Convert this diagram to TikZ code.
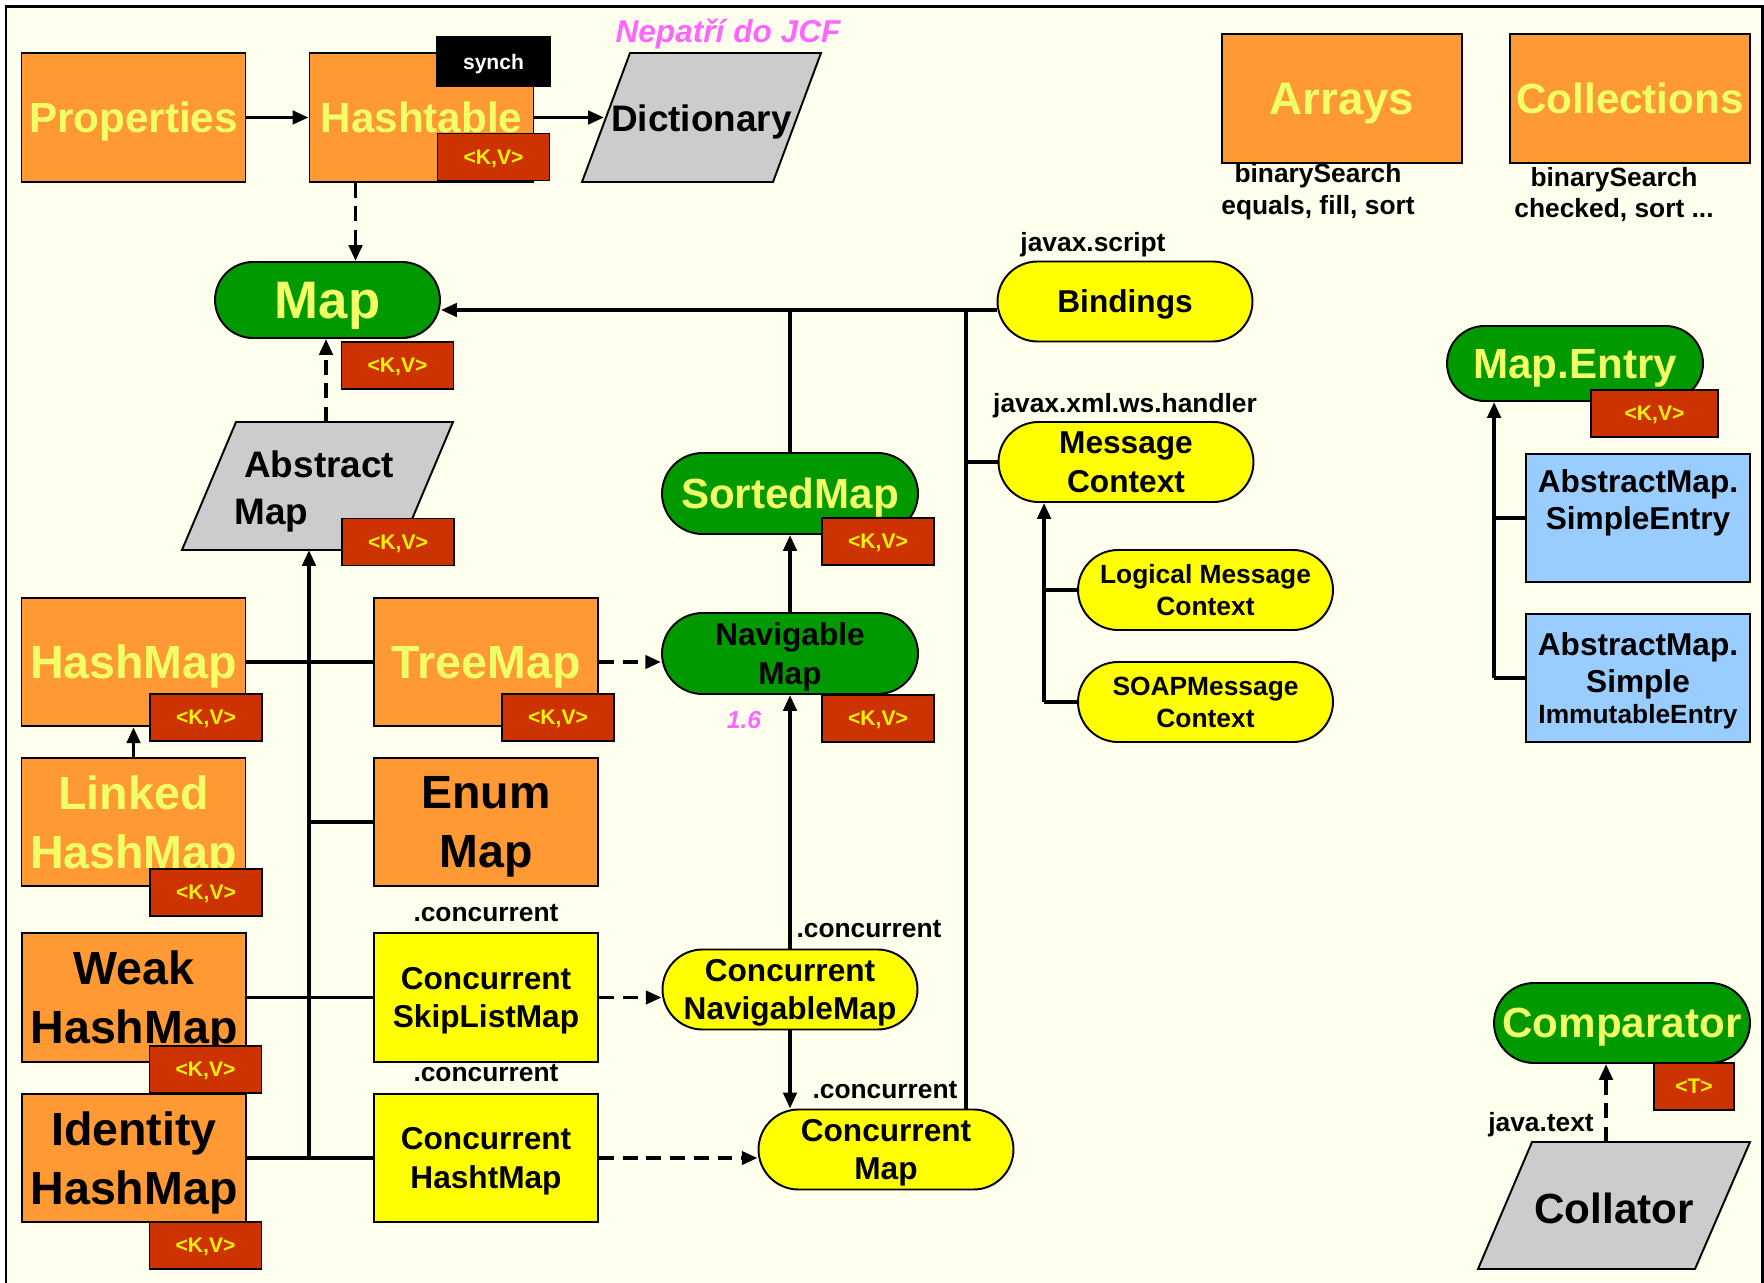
\documentclass[tikz,border=0pt]{standalone}
\usepackage{fontspec}
\setmainfont{Liberation Sans}
\usetikzlibrary{arrows.meta,shapes.misc}

\definecolor{cream}{HTML}{FFFFEE}
\definecolor{classorange}{HTML}{FF9933}
\definecolor{paleyellow}{HTML}{F2FF66}
\definecolor{tagred}{HTML}{CC3300}
\definecolor{ifacegreen}{HTML}{009900}
\definecolor{abstractgray}{HTML}{CCCCCC}
\definecolor{conclyellow}{HTML}{FFFF00}
\definecolor{entryblue}{HTML}{99CCFF}
\definecolor{notepink}{HTML}{FF66FF}

\tikzset{
  conn/.style={line width=2.1pt},
  arr/.style={conn,-{Triangle[length=9pt,width=7.5pt]}},
  dsh/.style={arr,dash pattern=on 8.5pt off 5pt},
  shapeline/.style={draw,line width=1.1pt,inner sep=0pt,align=center,text depth=0pt},
  orangebox/.style={shapeline,fill=classorange,text=paleyellow,minimum width=4.48cm,minimum height=2.57cm,font=\bfseries\fontsize{26.5}{33.5}\selectfont},
  yellowbox/.style={shapeline,fill=conclyellow,minimum width=4.48cm,minimum height=2.57cm,font=\bfseries\fontsize{18}{22}\selectfont},
  bluebox/.style={shapeline,fill=entryblue,minimum width=4.48cm,minimum height=2.56cm,font=\bfseries\fontsize{18}{21.3}\selectfont},
  greenpill/.style={shapeline,rounded rectangle,fill=ifacegreen,text=paleyellow,minimum width=5.12cm,minimum height=1.62cm,font=\bfseries\fontsize{24}{28}\selectfont},
  yellowpill/.style={shapeline,rounded rectangle,fill=conclyellow,minimum width=5.1cm,minimum height=1.6cm,font=\bfseries\fontsize{18}{22}\selectfont},
  kvtag/.style={shapeline,fill=tagred,text=yellow,minimum width=2.24cm,minimum height=0.94cm,font=\bfseries\fontsize{12}{14}\selectfont},
  pkg/.style={inner sep=0pt,align=center,text depth=0pt,font=\bfseries\fontsize{15}{18}\selectfont},
  parashape/.style={draw,line width=1.1pt,fill=abstractgray},
  paratext/.style={inner sep=0pt,text depth=0pt,font=\bfseries\fontsize{21}{26.7}\selectfont},
}

\begin{document}
\begin{tikzpicture}[x=0.02cm,y=-0.02cm]
    % page and frame
    \path[use as bounding box,fill=white] (0,0) rectangle (1764,1283);
    \filldraw[fill=cream,line width=1.7pt] (6,1290) -- (6,7) -- (1762,7) -- (1762,1290);

    % Legacy classes - Properties, Hashtable, Dictionary
    \node[orangebox,font=\bfseries\fontsize{24}{28}\selectfont] (props) at (133.5,117.5) {Properties};
    \node[orangebox,font=\bfseries\fontsize{24}{28}\selectfont] (htable) at (421.5,117.5) {Hashtable};
    \node[kvtag,fill=black,text=white,minimum width=2.26cm,minimum height=0.98cm] (synch) at (493.5,61.5) {synch};
    \node[kvtag] (kvhtable) at (493.5,157) {<K,V>};
    \path[parashape] (582,182) -- (630,53) -- (821,53) -- (773,182) -- cycle;
    \node[paratext] (dict) at (701.5,118) {Dictionary};
    \coordinate (dictedge) at (604,117.5);
    \node[pkg,text=notepink,font=\bfseries\itshape\fontsize{18}{22}\selectfont] (nojcf) at (728,31) {Nepatří do JCF};

    % Map and AbstractMap
    \node[greenpill,minimum width=4.5cm,minimum height=1.52cm,font=\bfseries\fontsize{30}{34}\selectfont] (map) at (327.5,300) {Map};
    \node[kvtag] (kvmap) at (397.5,365.5) {<K,V>};
    \path[parashape] (182,550) -- (236,422) -- (453,422) -- (399,550) -- cycle;
    \node[paratext,align=left,anchor=west] (absmap) at (234,488) {\hspace*{0.2cm}Abstract\\Map};
    \node[kvtag] (kvabs) at (398,542) {<K,V>};
    \coordinate (abstop) at (326,422);
    \coordinate (absbot) at (309,550);

    % Implementations
    \node[orangebox] (hashmap) at (133.5,662) {HashMap};
    \node[kvtag] (kvhash) at (206,717.5) {<K,V>};
    \node[orangebox] (treemap) at (486,662) {TreeMap};
    \node[kvtag] (kvtree) at (558,717.5) {<K,V>};
    \node[orangebox] (linked) at (133.5,822) {Linked\\HashMap};
    \node[kvtag] (kvlinked) at (206,892.5) {<K,V>};
    \node[orangebox,text=black] (enummap) at (486,822) {Enum\\Map};
    \node[orangebox,text=black] (weak) at (134,997.5) {Weak\\HashMap};
    \node[kvtag] (kvweak) at (205.5,1069.5) {<K,V>};
    \node[orangebox,text=black] (identity) at (134,1158) {Identity\\HashMap};
    \node[kvtag] (kvident) at (205.5,1245.5) {<K,V>};
    \node[yellowbox] (skiplist) at (486,997.5) {Concurrent\\SkipListMap};
    \node[pkg] (lblskip) at (486,913) {.concurrent};
    \node[yellowbox] (chashmap) at (486,1158) {Concurrent\\HashtMap};
    \node[pkg] (lblchash) at (486,1073) {.concurrent};

    % Sorted and concurrent interfaces
    \node[greenpill] (sorted) at (790,493.5) {SortedMap};
    \node[kvtag] (kvsorted) at (878,541.5) {<K,V>};
    \node[greenpill,text=black,font=\bfseries\fontsize{18}{22.5}\selectfont] (navigable) at (790,653.5) {Navigable\\Map};
    \node[kvtag] (kvnav) at (878,718.5) {<K,V>};
    \node[pkg,text=notepink,font=\bfseries\itshape\fontsize{14}{16}\selectfont] (since) at (744,720) {1.6};
    \node[yellowpill] (concnav) at (790,989.5) {Concurrent\\NavigableMap};
    \node[pkg] (lblnav) at (869,929) {.concurrent};
    \node[yellowpill] (concmap) at (886,1149.5) {Concurrent\\Map};
    \node[pkg] (lblcmap) at (885,1090) {.concurrent};

    % Other packages
    \node[yellowpill] (bindings) at (1125,301.5) {Bindings};
    \node[pkg] (lblscript) at (1093,242) {javax.script};
    \node[yellowpill] (msgctx) at (1126,462) {Message\\Context};
    \node[pkg] (lblhandler) at (1125,403) {javax.xml.ws.handler};
    \node[yellowpill,font=\bfseries\fontsize{15}{18}\selectfont] (logical) at (1205.5,590) {Logical Message\\Context};
    \node[yellowpill,font=\bfseries\fontsize{15}{18}\selectfont] (soap) at (1205.5,702) {SOAPMessage\\Context};

    % Utility classes
    \node[orangebox,minimum width=4.8cm,font=\bfseries\fontsize{26}{30}\selectfont] (arrays) at (1342,98.5) {Arrays};
    \node[pkg] (arraysops) at (1318,189) {binarySearch\\equals, fill, sort};
    \node[orangebox,minimum width=4.8cm,font=\bfseries\fontsize{24}{28}\selectfont] (collections) at (1630,98.5) {Collections};
    \node[pkg] (collops) at (1614,192.5) {binarySearch\\checked, sort ...};

    % Map.Entry
    \node[greenpill,minimum height=1.5cm] (mapentry) at (1575,363.5) {Map.Entry};
    \node[kvtag,minimum width=2.54cm] (kventry) at (1654.5,413.5) {<K,V>};
    \node[bluebox] (simpleentry) at (1638,518) {AbstractMap.\\SimpleEntry\\\mbox{}};
    \node[bluebox] (immutable) at (1638,678) {AbstractMap.\\Simple\\[-3.8pt]{\fontsize{15}{18}\selectfont ImmutableEntry}};

    % Comparator and Collator
    \node[greenpill,minimum height=1.6cm] (comparator) at (1622,1023) {Comparator};
    \node[kvtag,minimum width=1.6cm] (kvt) at (1694,1086.5) {<T>};
    \path[parashape] (1478,1269) -- (1532,1142) -- (1750,1142) -- (1695,1269) -- cycle;
    \node[paratext,font=\bfseries\fontsize{24}{28}\selectfont] (collator) at (1614,1208) {Collator};
    \coordinate (coltop) at (1606,1142);
    \node[pkg] (lbltext) at (1541,1122) {java.text};

    % Connectors - top row
    \draw[arr] (props.east) -- (htable.west);
    \draw[arr] (htable.east) -- (dictedge);
    \draw[dsh] ([xshift=0.94cm]htable.south west) -- ([xshift=0.94cm]htable.south west |- map.north);
    \draw[dsh] (abstop) -- (abstop |- map.south);

    % Connectors - bus into Map
    \coordinate (bus) at ([yshift=-0.17cm]bindings.west);
    \coordinate (riser) at ([xshift=1.6cm]concmap.north);
    \draw[arr] (bus) -- (bus -| map.east);
    \draw[conn] (sorted.north) -- (sorted.north |- bus);
    \draw[conn] (riser) -- (riser |- bus);
    \draw[conn] (riser |- msgctx.west) -- (msgctx.west);

    % Connectors - AbstractMap trunk
    \draw[arr] (absbot |- identity.east) -- (absbot);
    \draw[conn] (hashmap.east) -- (treemap.west);
    \draw[conn] (absbot |- enummap.west) -- (enummap.west);
    \draw[conn] (weak.east) -- (skiplist.west);
    \draw[conn] (identity.east) -- (chashmap.west);
    \draw[arr] (linked.north) -- (hashmap.south);

    % Connectors - sorted chain
    \draw[arr] (navigable.north) -- (sorted.south);
    \draw[arr] (concnav.north) -- (navigable.south);
    \draw[arr] (concnav.south) -- (concnav.south |- concmap.north);
    \draw[dsh] (treemap.east) -- (treemap.east -| navigable.west);
    \draw[dsh] (skiplist.east) -- (skiplist.east -| concnav.west);
    \draw[dsh] (chashmap.east) -- (chashmap.east -| concmap.west);

    % Connectors - MessageContext
    \coordinate (mcbus) at ([xshift=-0.66cm]soap.west);
    \draw[conn] (soap.west) -- (mcbus);
    \draw[arr] (mcbus) -- (mcbus |- msgctx.south);
    \draw[conn] (logical.west) -- (logical.west -| mcbus);

    % Connectors - Map.Entry
    \coordinate (ebus) at ([xshift=-0.62cm]immutable.west);
    \draw[conn] (immutable.west) -- (ebus);
    \draw[arr] (ebus) -- (ebus |- mapentry.south);
    \draw[conn] (simpleentry.west) -- (simpleentry.west -| ebus);

    % Connectors - Collator
    \draw[dsh] (coltop) -- (coltop |- comparator.south);
\end{tikzpicture}
\end{document}
